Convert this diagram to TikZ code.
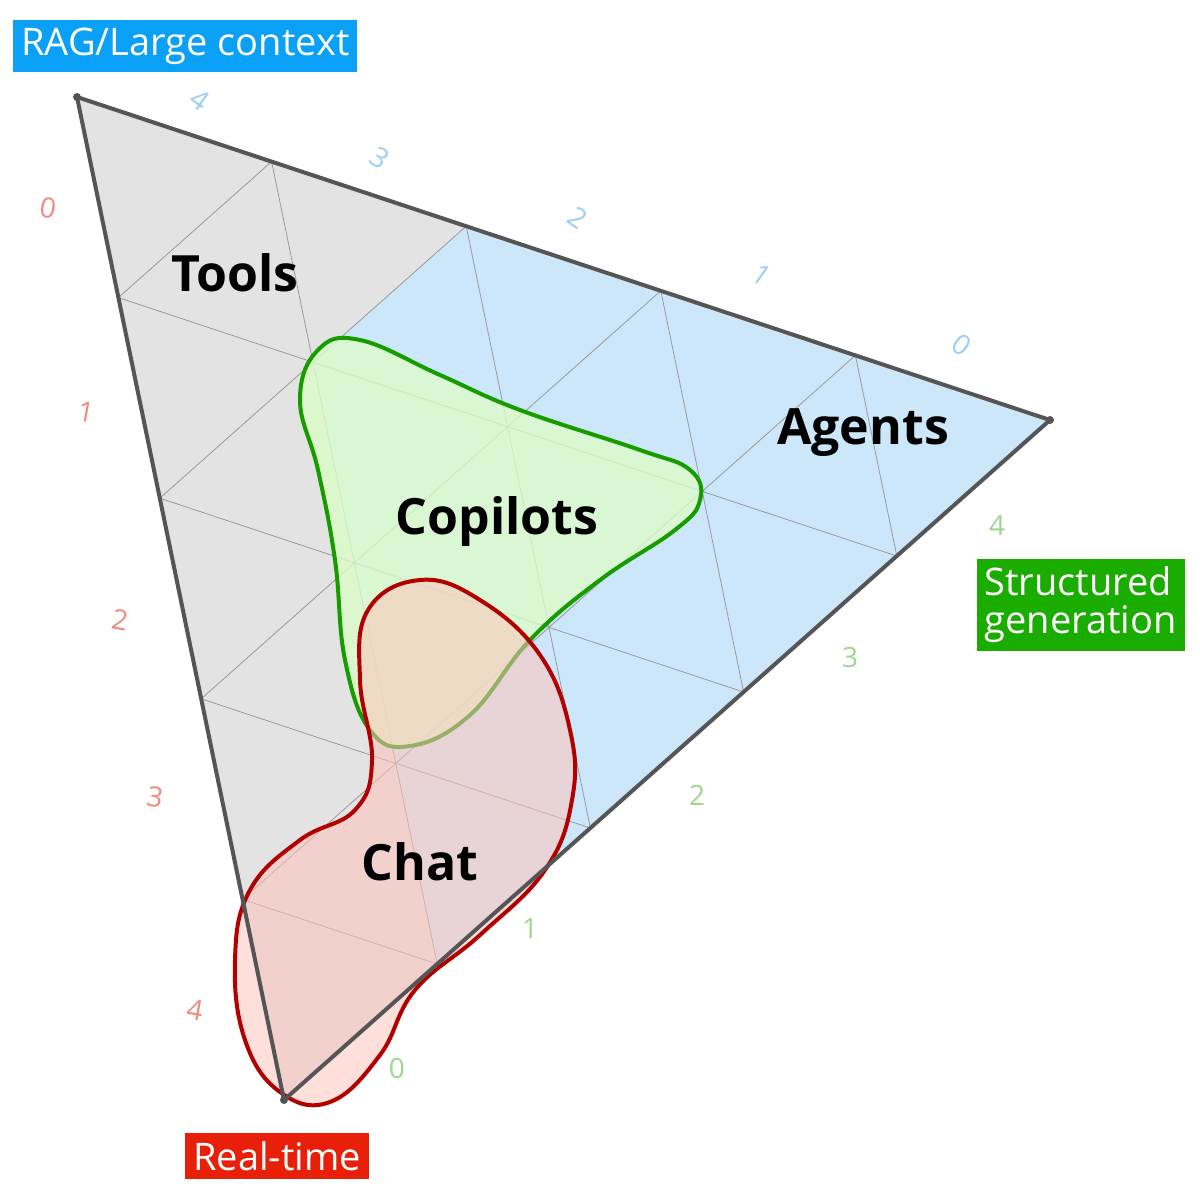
\documentclass[tikz,border=0pt]{standalone}
\usepackage{fontspec}
\setmainfont{Open Sans}
\usetikzlibrary{calc}
\definecolor{edge}{HTML}{555555}
\definecolor{gridc}{HTML}{9A9A9A}
\definecolor{greyfill}{HTML}{E3E3E3}
\definecolor{bluefill}{HTML}{CCE6FA}
\definecolor{tb}{HTML}{9CCFF5}
\definecolor{tr}{HTML}{F08A80}
\definecolor{tg}{HTML}{9DD68F}
\definecolor{lb}{HTML}{0AA0F5}
\definecolor{lg}{HTML}{1AAD00}
\definecolor{lr}{HTML}{E8200A}
\definecolor{gfill}{HTML}{DCFCC8}
\definecolor{rfill}{HTML}{FFC4BC}
\tikzset{
 gridline/.style={draw=gridc,line width=0.4pt},
 tick/.style={font=\fontsize{14}{14}\selectfont},
 big/.style={font=\bfseries\fontsize{25}{25}\selectfont},
 lab/.style={text=white,font=\fontsize{19}{21}\selectfont,inner sep=4pt,align=left},
}
\begin{document}
\begin{tikzpicture}[x=0.5pt,y=-0.5pt]
\useasboundingbox (0,0) rectangle (1200,1200);
\coordinate (A) at (77,97);
\coordinate (B) at (1050,420);
\coordinate (C) at (284,1100);
\fill[greyfill] (A)--(B)--(C)--cycle;
\coordinate (P1) at ($(A)!0.4!(B)$);
\coordinate (Q) at ($(C)!0.2!(B)$);
\coordinate (R) at (313,362);
\fill[bluefill] (P1)--(B)--(Q)--(R)--cycle;
\foreach \t in {0.2,0.4,0.6,0.8}{
 \draw[gridline] ($(B)!\t!(A)$) -- ($(C)!\t!(A)$);
 \draw[gridline] ($(A)!\t!(B)$) -- ($(C)!\t!(B)$);
 \draw[gridline] ($(A)!\t!(C)$) -- ($(B)!\t!(C)$);
}
% green blob
\draw[draw=lg!90!black,line width=2pt,fill=gfill,fill opacity=0.8]
 plot[smooth cycle,tension=0.7] coordinates{(318,350)(360,340)(440,375)(520,410)(640,450)(690,470)(700,500)(675,530)(600,580)(530,640)(470,715)(410,746)(370,730)(345,660)(335,560)(318,470)(300,400)};
% red blob
\draw[draw=red!70!black,line width=2pt,fill=rfill,fill opacity=0.55]
 plot[smooth cycle,tension=0.7] coordinates{(420,580)(480,600)(540,655)(570,730)(572,800)(545,870)(480,935)(415,990)(380,1055)(330,1102)(280,1092)(245,1040)(235,960)(250,890)(300,840)(355,810)(372,760)(360,680)(368,610)};
\draw[edge,line width=2pt,line join=round] (A)--(B)--(C)--cycle;
\foreach \p in {A,B,C} \fill[edge] (\p) circle (4);
% ticks
\node[tick,text=tb,rotate=-35] (tb4) at (200,100) {4};
\node[tick,text=tb,rotate=-35] (tb3) at (380,158) {3};
\node[tick,text=tb,rotate=-35] (tb2) at (578,218) {2};
\node[tick,text=tb,rotate=-35] (tb1) at (762,275) {1};
\node[tick,text=tb,rotate=-35] (tb0) at (962,345) {0};
\node[tick,text=tr,rotate=-10] (tr0) at (48,208) {0};
\node[tick,text=tr,rotate=-10] (tr1) at (86,412) {1};
\node[tick,text=tr,rotate=-10] (tr2) at (120,620) {2};
\node[tick,text=tr,rotate=-10] (tr3) at (155,797) {3};
\node[tick,text=tr,rotate=-10] (tr4) at (195,1010) {4};
\node[tick,text=tg] (tg4) at (997,525) {4};
\node[tick,text=tg] (tg3) at (850,657) {3};
\node[tick,text=tg] (tg2) at (697,795) {2};
\node[tick,text=tg] (tg1) at (530,928) {1};
\node[tick,text=tg] (tg0) at (397,1068) {0};
% big labels
\node[big] (tools) at (235,273) {Tools};
\node[big] (agents) at (863,433) {Agents};
\node[big] (copilots) at (497,522) {Copilots};
\node[big] (chat) at (420,862) {Chat};
% corner labels
\node[lab,fill=lb,anchor=west] (rag) at (13,46) {RAG/Large context};
\node[lab,fill=lg,anchor=east] (sg) at (1185,605) {Structured\\[-2pt]generation};
\node[lab,fill=lr] (rt) at (277,1156) {Real-time};
\end{tikzpicture}
\end{document}
